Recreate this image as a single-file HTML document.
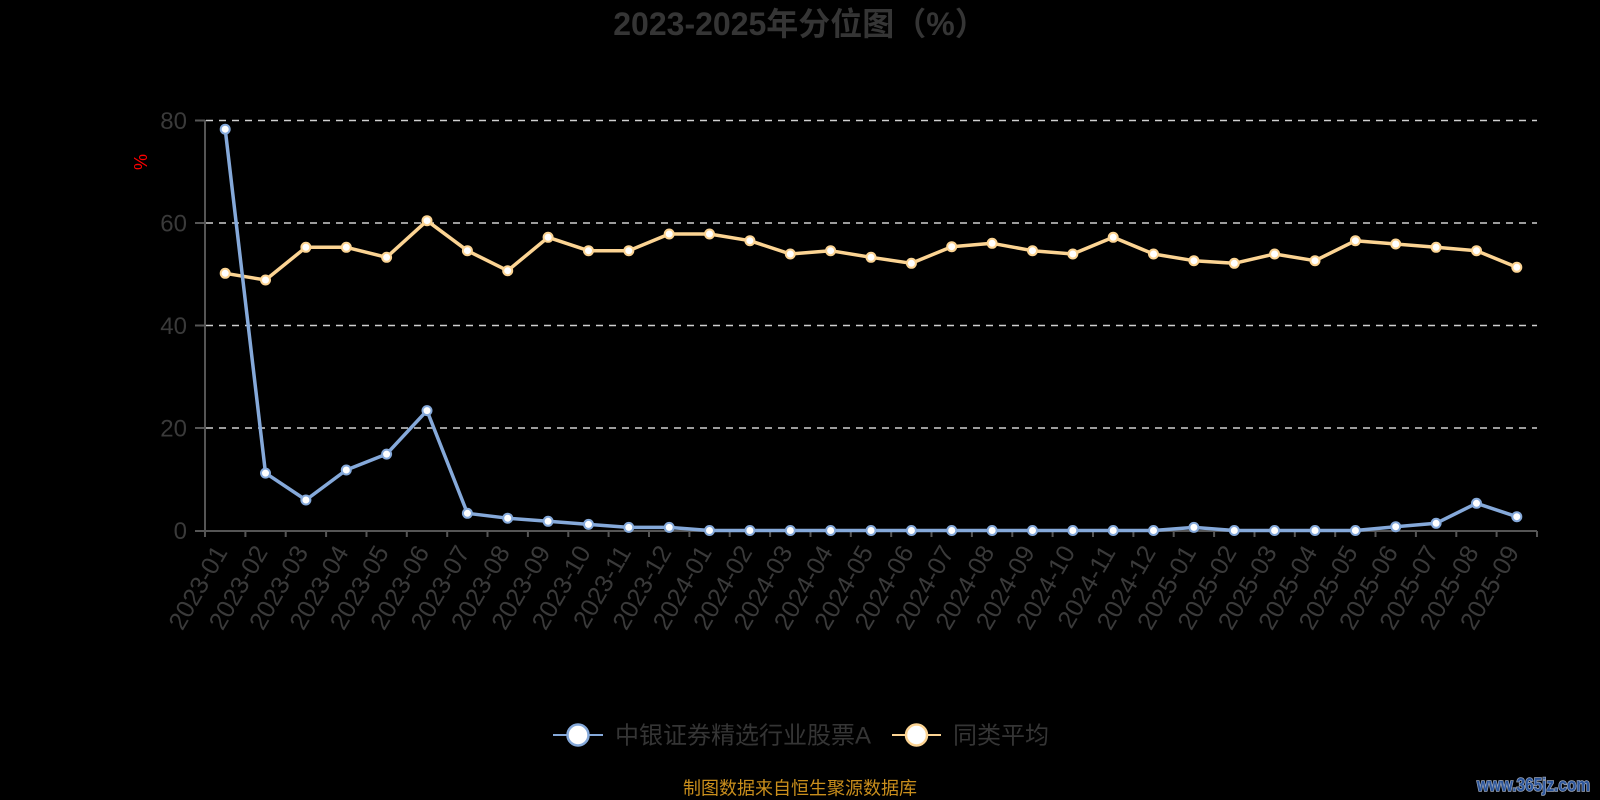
<!DOCTYPE html>
<html>
<head>
<meta charset="utf-8">
<style>
  html,body{margin:0;padding:0;background:#000;}
  svg{display:block;}
  text{font-family:"Liberation Sans","Noto Sans CJK SC",sans-serif;}
</style>
</head>
<body>
<svg width="1600" height="800" viewBox="0 0 1600 800" xmlns="http://www.w3.org/2000/svg">
  <rect x="0" y="0" width="1600" height="800" fill="#000"/>

  <!-- Title -->
  <text x="800" y="35" text-anchor="middle" font-size="32" font-weight="bold" fill="#353535">2023-2025年分位图（%）</text>

  <!-- Y axis name -->
  <text transform="translate(147,162) rotate(-90)" text-anchor="middle" font-size="18" fill="#ff0000">%</text>

  <!-- Grid lines -->
  <g stroke="#cfcfcf" stroke-width="1.5" stroke-dasharray="7 6">
    <line x1="206" y1="120.5" x2="1537" y2="120.5"/>
    <line x1="206" y1="223" x2="1537" y2="223"/>
    <line x1="206" y1="325.5" x2="1537" y2="325.5"/>
    <line x1="206" y1="428" x2="1537" y2="428"/>
  </g>

  <!-- Axes -->
  <g stroke="#555" stroke-width="2">
    <line x1="205" y1="120" x2="205" y2="531"/>
    <line x1="195" y1="531" x2="1537" y2="531"/>
    <line x1="195" y1="120.5" x2="205" y2="120.5"/>
    <line x1="195" y1="223" x2="205" y2="223"/>
    <line x1="195" y1="325.5" x2="205" y2="325.5"/>
    <line x1="195" y1="428" x2="205" y2="428"/>
  </g>
  <!-- X ticks -->
  <g stroke="#555" stroke-width="2">
    <line x1="205" y1="531" x2="205" y2="537"/>
    <line x1="245.4" y1="531" x2="245.4" y2="537"/>
    <line x1="285.7" y1="531" x2="285.7" y2="537"/>
    <line x1="326.1" y1="531" x2="326.1" y2="537"/>
    <line x1="366.5" y1="531" x2="366.5" y2="537"/>
    <line x1="406.8" y1="531" x2="406.8" y2="537"/>
    <line x1="447.2" y1="531" x2="447.2" y2="537"/>
    <line x1="487.5" y1="531" x2="487.5" y2="537"/>
    <line x1="527.9" y1="531" x2="527.9" y2="537"/>
    <line x1="568.3" y1="531" x2="568.3" y2="537"/>
    <line x1="608.6" y1="531" x2="608.6" y2="537"/>
    <line x1="649" y1="531" x2="649" y2="537"/>
    <line x1="689.4" y1="531" x2="689.4" y2="537"/>
    <line x1="729.7" y1="531" x2="729.7" y2="537"/>
    <line x1="770.1" y1="531" x2="770.1" y2="537"/>
    <line x1="810.5" y1="531" x2="810.5" y2="537"/>
    <line x1="850.8" y1="531" x2="850.8" y2="537"/>
    <line x1="891.2" y1="531" x2="891.2" y2="537"/>
    <line x1="931.5" y1="531" x2="931.5" y2="537"/>
    <line x1="971.9" y1="531" x2="971.9" y2="537"/>
    <line x1="1012.3" y1="531" x2="1012.3" y2="537"/>
    <line x1="1052.6" y1="531" x2="1052.6" y2="537"/>
    <line x1="1093" y1="531" x2="1093" y2="537"/>
    <line x1="1133.4" y1="531" x2="1133.4" y2="537"/>
    <line x1="1173.7" y1="531" x2="1173.7" y2="537"/>
    <line x1="1214.1" y1="531" x2="1214.1" y2="537"/>
    <line x1="1254.5" y1="531" x2="1254.5" y2="537"/>
    <line x1="1294.8" y1="531" x2="1294.8" y2="537"/>
    <line x1="1335.2" y1="531" x2="1335.2" y2="537"/>
    <line x1="1375.5" y1="531" x2="1375.5" y2="537"/>
    <line x1="1415.9" y1="531" x2="1415.9" y2="537"/>
    <line x1="1456.3" y1="531" x2="1456.3" y2="537"/>
    <line x1="1496.6" y1="531" x2="1496.6" y2="537"/>
    <line x1="1537" y1="531" x2="1537" y2="537"/>
  </g>

  <!-- Y labels -->
  <g font-size="24" fill="#3a3a3a" text-anchor="end">
    <text x="187" y="129">80</text>
    <text x="187" y="231.5">60</text>
    <text x="187" y="334">40</text>
    <text x="187" y="436.5">20</text>
    <text x="187" y="539">0</text>
  </g>

  <!-- X labels -->
  <g font-size="25" fill="#3a3a3a" text-anchor="end">
    <text transform="translate(228.2,552) rotate(-60)">2023-01</text>
    <text transform="translate(268.5,552) rotate(-60)">2023-02</text>
    <text transform="translate(308.9,552) rotate(-60)">2023-03</text>
    <text transform="translate(349.3,552) rotate(-60)">2023-04</text>
    <text transform="translate(389.6,552) rotate(-60)">2023-05</text>
    <text transform="translate(430,552) rotate(-60)">2023-06</text>
    <text transform="translate(470.4,552) rotate(-60)">2023-07</text>
    <text transform="translate(510.7,552) rotate(-60)">2023-08</text>
    <text transform="translate(551.1,552) rotate(-60)">2023-09</text>
    <text transform="translate(591.5,552) rotate(-60)">2023-10</text>
    <text transform="translate(631.8,552) rotate(-60)">2023-11</text>
    <text transform="translate(672.2,552) rotate(-60)">2023-12</text>
    <text transform="translate(712.5,552) rotate(-60)">2024-01</text>
    <text transform="translate(752.9,552) rotate(-60)">2024-02</text>
    <text transform="translate(793.3,552) rotate(-60)">2024-03</text>
    <text transform="translate(833.6,552) rotate(-60)">2024-04</text>
    <text transform="translate(874,552) rotate(-60)">2024-05</text>
    <text transform="translate(914.4,552) rotate(-60)">2024-06</text>
    <text transform="translate(954.7,552) rotate(-60)">2024-07</text>
    <text transform="translate(995.1,552) rotate(-60)">2024-08</text>
    <text transform="translate(1035.5,552) rotate(-60)">2024-09</text>
    <text transform="translate(1075.8,552) rotate(-60)">2024-10</text>
    <text transform="translate(1116.2,552) rotate(-60)">2024-11</text>
    <text transform="translate(1156.5,552) rotate(-60)">2024-12</text>
    <text transform="translate(1196.9,552) rotate(-60)">2025-01</text>
    <text transform="translate(1237.3,552) rotate(-60)">2025-02</text>
    <text transform="translate(1277.6,552) rotate(-60)">2025-03</text>
    <text transform="translate(1318,552) rotate(-60)">2025-04</text>
    <text transform="translate(1358.4,552) rotate(-60)">2025-05</text>
    <text transform="translate(1398.7,552) rotate(-60)">2025-06</text>
    <text transform="translate(1439.1,552) rotate(-60)">2025-07</text>
    <text transform="translate(1479.5,552) rotate(-60)">2025-08</text>
    <text transform="translate(1519.8,552) rotate(-60)">2025-09</text>
  </g>

  <!-- Orange series (同类平均) -->
  <polyline fill="none" stroke="#fcd493" stroke-width="3.5" stroke-linejoin="round"
    points="225.2,273.3 265.5,280 305.9,247.3 346.3,247.3 386.6,257.3 427,220.7 467.4,250.7 507.7,270.7 548.1,237.3 588.5,250.7 628.8,250.7 669.2,234 709.5,234 749.9,240.7 790.3,254 830.6,250.7 871,257.3 911.4,263.3 951.7,246.7 992.1,243.3 1032.5,250.7 1072.8,254 1113.2,237.3 1153.5,254 1193.9,260.7 1234.3,263.3 1274.6,254 1315,260.7 1355.4,240.7 1395.7,244 1436.1,247.3 1476.5,250.7 1516.8,267.3"/>
  <g fill="#fff" stroke="#fcd493" stroke-width="2">
    <circle cx="225.2" cy="273.3" r="4.5"/>
    <circle cx="265.5" cy="280" r="4.5"/>
    <circle cx="305.9" cy="247.3" r="4.5"/>
    <circle cx="346.3" cy="247.3" r="4.5"/>
    <circle cx="386.6" cy="257.3" r="4.5"/>
    <circle cx="427" cy="220.7" r="4.5"/>
    <circle cx="467.4" cy="250.7" r="4.5"/>
    <circle cx="507.7" cy="270.7" r="4.5"/>
    <circle cx="548.1" cy="237.3" r="4.5"/>
    <circle cx="588.5" cy="250.7" r="4.5"/>
    <circle cx="628.8" cy="250.7" r="4.5"/>
    <circle cx="669.2" cy="234" r="4.5"/>
    <circle cx="709.5" cy="234" r="4.5"/>
    <circle cx="749.9" cy="240.7" r="4.5"/>
    <circle cx="790.3" cy="254" r="4.5"/>
    <circle cx="830.6" cy="250.7" r="4.5"/>
    <circle cx="871" cy="257.3" r="4.5"/>
    <circle cx="911.4" cy="263.3" r="4.5"/>
    <circle cx="951.7" cy="246.7" r="4.5"/>
    <circle cx="992.1" cy="243.3" r="4.5"/>
    <circle cx="1032.5" cy="250.7" r="4.5"/>
    <circle cx="1072.8" cy="254" r="4.5"/>
    <circle cx="1113.2" cy="237.3" r="4.5"/>
    <circle cx="1153.5" cy="254" r="4.5"/>
    <circle cx="1193.9" cy="260.7" r="4.5"/>
    <circle cx="1234.3" cy="263.3" r="4.5"/>
    <circle cx="1274.6" cy="254" r="4.5"/>
    <circle cx="1315" cy="260.7" r="4.5"/>
    <circle cx="1355.4" cy="240.7" r="4.5"/>
    <circle cx="1395.7" cy="244" r="4.5"/>
    <circle cx="1436.1" cy="247.3" r="4.5"/>
    <circle cx="1476.5" cy="250.7" r="4.5"/>
    <circle cx="1516.8" cy="267.3" r="4.5"/>
  </g>

  <!-- Blue series (中银证券精选行业股票A) -->
  <polyline fill="none" stroke="#85a9da" stroke-width="3.5" stroke-linejoin="round"
    points="225.2,129.2 265.5,473.1 305.9,500 346.3,470 386.6,454.1 427,410.6 467.4,513.3 507.7,518.2 548.1,521.3 588.5,524.4 628.8,527.4 669.2,527.4 709.5,530.5 749.9,530.5 790.3,530.5 830.6,530.5 871,530.5 911.4,530.5 951.7,530.5 992.1,530.5 1032.5,530.5 1072.8,530.5 1113.2,530.5 1153.5,530.5 1193.9,527.4 1234.3,530.5 1274.6,530.5 1315,530.5 1355.4,530.5 1395.7,526.7 1436.1,523.3 1476.5,503.3 1516.8,516.7"/>
  <g fill="#fff" stroke="#85a9da" stroke-width="2">
    <circle cx="225.2" cy="129.2" r="4.5"/>
    <circle cx="265.5" cy="473.1" r="4.5"/>
    <circle cx="305.9" cy="500" r="4.5"/>
    <circle cx="346.3" cy="470" r="4.5"/>
    <circle cx="386.6" cy="454.1" r="4.5"/>
    <circle cx="427" cy="410.6" r="4.5"/>
    <circle cx="467.4" cy="513.3" r="4.5"/>
    <circle cx="507.7" cy="518.2" r="4.5"/>
    <circle cx="548.1" cy="521.3" r="4.5"/>
    <circle cx="588.5" cy="524.4" r="4.5"/>
    <circle cx="628.8" cy="527.4" r="4.5"/>
    <circle cx="669.2" cy="527.4" r="4.5"/>
    <circle cx="709.5" cy="530.5" r="4.5"/>
    <circle cx="749.9" cy="530.5" r="4.5"/>
    <circle cx="790.3" cy="530.5" r="4.5"/>
    <circle cx="830.6" cy="530.5" r="4.5"/>
    <circle cx="871" cy="530.5" r="4.5"/>
    <circle cx="911.4" cy="530.5" r="4.5"/>
    <circle cx="951.7" cy="530.5" r="4.5"/>
    <circle cx="992.1" cy="530.5" r="4.5"/>
    <circle cx="1032.5" cy="530.5" r="4.5"/>
    <circle cx="1072.8" cy="530.5" r="4.5"/>
    <circle cx="1113.2" cy="530.5" r="4.5"/>
    <circle cx="1153.5" cy="530.5" r="4.5"/>
    <circle cx="1193.9" cy="527.4" r="4.5"/>
    <circle cx="1234.3" cy="530.5" r="4.5"/>
    <circle cx="1274.6" cy="530.5" r="4.5"/>
    <circle cx="1315" cy="530.5" r="4.5"/>
    <circle cx="1355.4" cy="530.5" r="4.5"/>
    <circle cx="1395.7" cy="526.7" r="4.5"/>
    <circle cx="1436.1" cy="523.3" r="4.5"/>
    <circle cx="1476.5" cy="503.3" r="4.5"/>
    <circle cx="1516.8" cy="516.7" r="4.5"/>
  </g>

  <!-- Legend -->
  <line x1="553" y1="735" x2="603" y2="735" stroke="#85a9da" stroke-width="2"/>
  <circle cx="578" cy="735" r="10.5" fill="#fff" stroke="#85a9da" stroke-width="2.5"/>
  <text x="615" y="743.5" font-size="24" fill="#353535">中银证券精选行业股票A</text>

  <line x1="892" y1="735" x2="941" y2="735" stroke="#fcd493" stroke-width="2"/>
  <circle cx="916.5" cy="735" r="10.5" fill="#fff" stroke="#fcd493" stroke-width="2.5"/>
  <text x="953" y="743.5" font-size="24" fill="#353535">同类平均</text>

  <!-- Footer -->
  <text x="800" y="794.5" text-anchor="middle" font-size="18" fill="#c98e1c">制图数据来自恒生聚源数据库</text>

  <!-- Watermark -->
  <text x="1477" y="791" font-family="Liberation Serif, serif" font-size="18" font-weight="bold" fill="#2b559b" stroke="#9aa6bb" stroke-width="1.6" paint-order="stroke" textLength="113" lengthAdjust="spacingAndGlyphs">www.365jz.com</text>
</svg>
</body>
</html>
